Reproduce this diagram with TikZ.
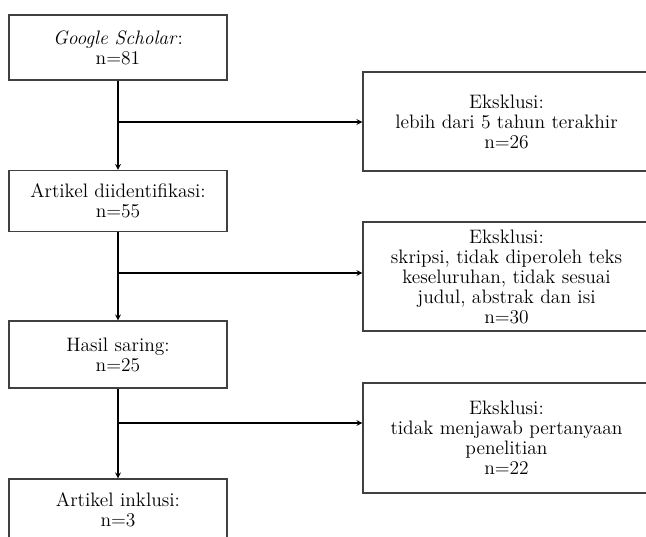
\documentclass[tikz,border=0pt]{standalone}
\usepackage{tikz}
\usepackage{xcolor}

\begin{document}
\begin{tikzpicture}[x=0.75pt,y=-0.75pt,-stealth,
  box/.style={draw=black!75,line width=0.8pt,align=center,inner sep=0pt,
    font=\fontsize{14.6}{15}\selectfont},
  lbox/.style={box,minimum width=163.5pt},
  rbox/.style={box,minimum width=215.25pt},
  flow/.style={line width=1pt}]
\useasboundingbox (0,0) rectangle (646,536);
\clip (0,0) rectangle (646,536);

\node[lbox,minimum height=48.75pt] (G) at (118,47.5) {\textit{Google Scholar}:\\n=81};
\node[lbox,minimum height=45.75pt] (A) at (118,201) {Artikel diidentifikasi:\\n=55};
\node[lbox,minimum height=50.25pt] (H) at (118,354.5) {Hasil saring:\\n=25};
\node[lbox,minimum height=45.75pt] (I) at (118,509.5) {Artikel inklusi:\\n=3};

\node[rbox,minimum height=74.25pt] (E1) at (506.5,121.5) {Eksklusi:\\lebih dari 5 tahun terakhir\\n=26};
\node[rbox,minimum height=81.75pt] (E2) at (506.5,276.5) {Eksklusi:\\skripsi, tidak diperoleh teks\\keseluruhan, tidak sesuai\\judul, abstrak dan isi\\n=30};
\node[rbox,minimum height=82.5pt] (E3) at (506.5,438) {Eksklusi:\\tidak menjawab pertanyaan\\penelitian\\n=22};

\coordinate (b1) at (118,122);
\coordinate (b2) at (118,273);
\coordinate (b3) at (118,423);

\draw[flow] (G) to (A);
\draw[flow] (A) to (H);
\draw[flow] (H) to (I);
\draw[flow] (b1) to (b1 -| E1.west);
\draw[flow] (b2) to (b2 -| E2.west);
\draw[flow] (b3) to (b3 -| E3.west);

\end{tikzpicture}
\end{document}
